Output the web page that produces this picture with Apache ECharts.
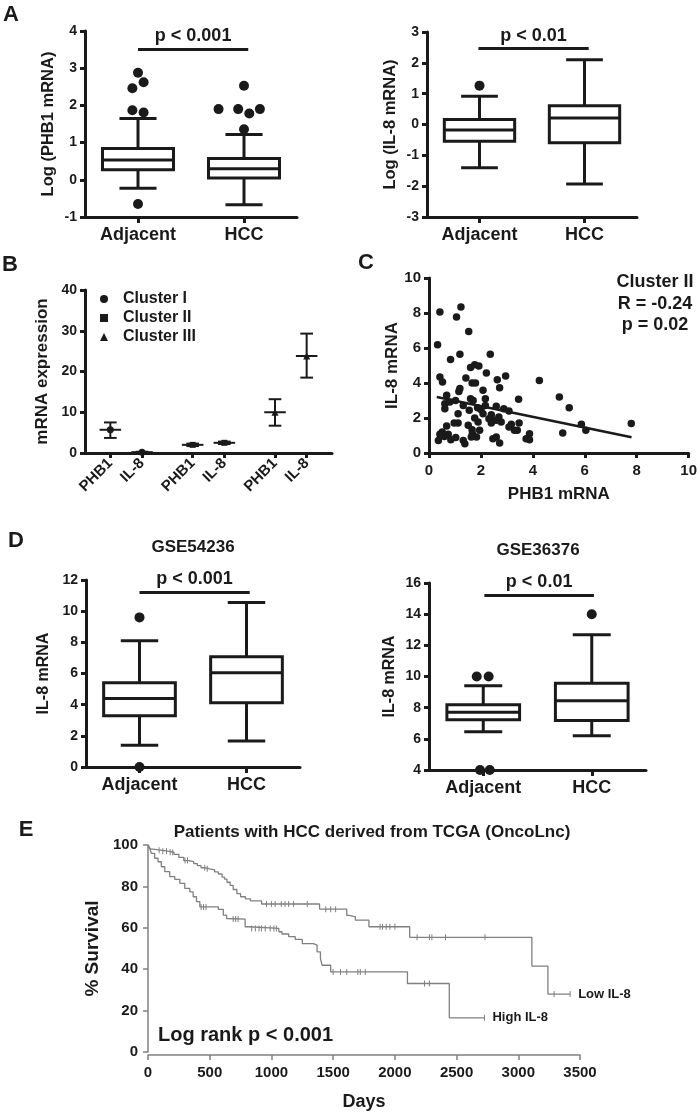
<!DOCTYPE html>
<html><head><meta charset="utf-8">
<script src="https://cdn.jsdelivr.net/npm/echarts@6/dist/echarts.min.js"></script>
<style>html,body{margin:0;padding:0;background:#fff}#c{width:700px;height:1114px}</style>
</head><body><div id="c"></div>
<script>
// ---------- DATA ----------
const boxCats = ['Adjacent', 'HCC'];
// box rows: [min, Q1, median, Q3, max]
const aPhb1Box = [[-0.23, 0.27, 0.53, 0.84, 1.65], [-0.67, 0.05, 0.30, 0.57, 1.22]];
const aPhb1Out = [[0, 2.88], [-0.053, 2.46], [0.053, 2.62], [-0.053, 1.87], [0.053, 1.81], [0, -0.65],
                  [1, 2.53], [0.76, 1.90], [0.945, 1.90], [1.05, 1.78], [1.15, 1.90], [1, 1.36]];
const aIl8Box = [[-1.40, -0.54, -0.18, 0.16, 0.92], [-1.93, -0.59, 0.21, 0.61, 2.10]];
const aIl8Out = [[0, 1.26]];

const bPos = [0.8, 1.8, 3.4, 4.4, 6.0, 7.0];
const bLabels = ['PHB1', 'IL-8', 'PHB1', 'IL-8', 'PHB1', 'IL-8'];
const clusterNames = ['Cluster I', 'Cluster II', 'Cluster III'];
const clusterMean = [[5.7, 0.2], [2.0, 2.5], [10.0, 23.8]];
const clusterLow  = [[3.7, 0.1], [1.7, 2.2], [6.7, 18.5]];
const clusterHigh = [[7.5, 0.3], [2.3, 2.8], [13.2, 29.3]];

const cPhb1 = [0.42,1.06,1.23,0.33,1.53,1.19,0.83,2.36,1.60,1.76,1.92,2.21,0.42,0.52,1.42,1.66,1.79,2.63,2.95,4.25,
  2.08,2.72,1.15,1.19,0.68,0.61,0.61,0.80,1.02,1.60,1.70,2.17,1.32,1.55,1.87,2.00,2.17,2.59,2.08,2.40,
  2.88,3.08,3.45,5.02,5.40,1.12,1.76,1.89,1.51,0.97,1.12,0.68,0.51,0.42,0.74,0.59,0.36,0.84,1.03,1.32,
  1.38,1.66,1.67,1.83,1.95,1.63,2.46,2.40,2.69,2.78,3.08,3.17,3.47,3.40,3.29,3.87,3.74,3.87,2.46,2.59,
  2.72,5.15,5.87,6.04,7.79,2.59,2.31];
const cIl8 = [8.06,7.77,8.34,6.19,6.95,5.64,5.35,5.64,4.88,5.05,4.97,4.57,4.34,4.06,4.29,4.00,4.00,4.19,4.40,4.15,
  3.58,3.73,3.52,3.68,3.30,2.82,2.53,2.91,3.00,3.10,3.00,3.10,2.72,2.44,2.59,2.48,2.72,2.67,2.25,2.19,
  2.53,2.40,3.07,3.20,2.59,2.25,2.00,1.77,1.58,1.71,1.71,1.54,1.20,1.07,1.07,0.95,0.72,0.76,0.88,0.72,
  0.53,1.33,1.10,0.91,1.30,0.91,1.87,1.71,2.06,1.77,1.49,1.64,1.71,1.30,1.30,1.10,0.82,0.76,0.82,0.91,
  0.57,1.14,1.64,1.30,1.68,1.87,1.96];
const cFitX = [0.3, 7.8];
const cFitY = [3.2, 0.9];

const dLeftBox = [[1.39, 3.29, 4.40, 5.41, 8.10], [1.67, 4.13, 6.05, 7.08, 10.55]];
const dLeftOut = [[0, 9.6], [0, 0]];
const dRightBox = [[6.46, 7.22, 7.71, 8.18, 9.40], [6.19, 7.17, 8.44, 9.57, 12.68]];
const dRightOut = [[-0.06, 10.0], [0.05, 10.0], [-0.03, 4.0], [0.06, 4.0], [1, 14.0]];

const lowDays = [0,10,20,40,100,160,210,250,290,330,370,400,430,465,500,540,570,600,620,640,665,690,720,750,790,830,920,1390,1610,1630,1680,1790,2120,3110,3240,3420];
const lowSurv = [100,99,98,97.5,97,96.5,95.5,94,92.5,92,91,90,89,88.5,88,87,86,84.5,83.5,82,80.5,78.5,76.5,75,74,73,71.5,69,66,65.3,63.7,60.5,55.4,41.5,28,28];
const highDays = [0,14,27,54,81,108,136,176,217,258,298,339,366,393,420,570,610,637,650,787,814,1060,1085,1140,1193,1250,1340,1370,1397,1410,1480,2102,2441,2726];
const highSurv = [100,98.4,96,93.6,91.9,89.5,87.1,84.7,83.4,81.5,79,77.4,75,72.6,70.1,68.9,66.1,64.5,64.2,60.5,59.7,58.1,57,55.7,54.4,52.4,51.6,48.4,45.2,41.9,38.7,33.1,16.5,16.5];
const lowCensor = [90,120,150,180,200,300,320,460,480,960,1000,1030,1080,1110,1140,1180,1290,1440,1480,1520,1880,1900,1930,1960,2000,2180,2280,2300,2410,2730,3290,3420];
const highCensor = [430,450,470,690,710,730,840,870,900,920,950,990,1020,1040,1500,1560,1610,1700,1720,1760,2240,2280,2726];

// ---------- STYLE ----------
const FF = '"Liberation Sans", Arial, Helvetica, sans-serif';
const INK = '#1a1a1a';
const GRAY = '#808080';

const chart = echarts.init(document.getElementById('c'), null, {renderer: 'canvas'});

function boxData(rows) { return rows.map((r, i) => [i].concat(r)); }
function boxRender(params, api) {
  const x = api.value(0);
  const mn = api.value(1), q1 = api.value(2), md = api.value(3), q3 = api.value(4), mx = api.value(5);
  const hw = 0.335, cw = 0.175;
  const p = (xx, yy) => api.coord([xx, yy]);
  const st = {stroke: INK, lineWidth: 3, fill: null};
  const L = (a, b) => ({type: 'line', shape: {x1: a[0], y1: a[1], x2: b[0], y2: b[1]}, style: st});
  const tl = p(x - hw, q3), br = p(x + hw, q1);
  return {type: 'group', children: [
    L(p(x, mx), p(x, q3)), L(p(x, q1), p(x, mn)),
    L(p(x - cw, mx), p(x + cw, mx)), L(p(x - cw, mn), p(x + cw, mn)),
    {type: 'rect', shape: {x: tl[0], y: tl[1], width: br[0] - tl[0], height: br[1] - tl[1]}, style: {stroke: INK, lineWidth: 3, fill: '#fff'}},
    L(p(x - hw, md), p(x + hw, md))
  ]};
}
function errRender(params, api) {
  const x = api.value(0), m = api.value(1), lo = api.value(2), hi = api.value(3);
  const p = (xx, yy) => api.coord([xx, yy]);
  const st = {stroke: INK, lineWidth: 2, fill: null};
  const L = (a, b) => ({type: 'line', shape: {x1: a[0], y1: a[1], x2: b[0], y2: b[1]}, style: st});
  return {type: 'group', children: [
    L(p(x, lo), p(x, hi)), L(p(x - 0.2, lo), p(x + 0.2, lo)), L(p(x - 0.2, hi), p(x + 0.2, hi)),
    L(p(x - 0.34, m), p(x + 0.34, m))
  ]};
}

const tickLbl = (size) => ({color: INK, fontFamily: FF, fontWeight: 'bold', fontSize: size});
function yAx(grid, min, max, interval, name, nameGap, nameSize, lblSize) {
  return {type: 'value', gridIndex: grid, min, max, interval,
    axisLine: {show: true, onZero: false, lineStyle: {color: INK, width: 3}},
    axisTick: {show: true, length: 5, lineStyle: {color: INK, width: 3}},
    axisLabel: Object.assign({margin: 8}, tickLbl(lblSize)),
    splitLine: {show: false},
    name, nameLocation: 'middle', nameGap, nameRotate: 90,
    nameTextStyle: {color: INK, fontFamily: FF, fontWeight: 'bold', fontSize: nameSize}};
}
function xCatAx(grid) {
  return {type: 'value', gridIndex: grid, min: -0.5, max: 1.5,
    axisLine: {show: true, onZero: false, lineStyle: {color: INK, width: 3}},
    axisTick: {show: true, length: 6, customValues: [0, 1], lineStyle: {color: INK, width: 3}},
    axisLabel: Object.assign({margin: 9, customValues: [0, 1], formatter: v => boxCats[Math.round(v)]}, tickLbl(18)),
    splitLine: {show: false}};
}
function sigLine(x0, x1, y, txt) {
  return {silent: true, symbol: 'none', animation: false,
    lineStyle: {color: INK, width: 3, type: 'solid'},
    label: {show: true, position: 'insideMiddleTop', distance: 4, formatter: txt, color: INK, fontFamily: FF, fontWeight: 'bold', fontSize: 18},
    data: [[{coord: [x0, y]}, {coord: [x1, y]}]]};
}
function boxSeries(grid, rows, out, sig) {
  return [
    {type: 'custom', xAxisIndex: grid, yAxisIndex: grid, renderItem: boxRender, data: boxData(rows),
     encode: {x: 0, y: [1, 2, 3, 4, 5]}, markLine: sig, z: 3},
    {type: 'scatter', xAxisIndex: grid, yAxisIndex: grid, data: out, symbolSize: 10, itemStyle: {color: INK, opacity: 1}, z: 4}
  ];
}
function stepAt(days, surv, t) {
  let v = surv[0];
  for (let i = 0; i < days.length; i++) if (days[i] <= t) v = surv[i];
  return v;
}

const txt = (x, y, s, size, align) => ({type: 'text', x, y,
  style: {text: s, fill: INK, font: 'bold ' + size + 'px ' + FF, textAlign: align || 'center', textVerticalAlign: 'middle'}});

const option = {
  backgroundColor: '#fff',
  animation: false,
  textStyle: {fontFamily: FF},
  grid: [
    {left: 85, top: 31, width: 212, height: 186},
    {left: 427, top: 32, width: 210, height: 185},
    {left: 85, top: 290, width: 247, height: 163},
    {left: 429, top: 278, width: 261, height: 175},
    {left: 86, top: 580, width: 214, height: 187},
    {left: 429, top: 583, width: 217, height: 187},
    {left: 148, top: 845, width: 432, height: 207}
  ],
  legend: {data: clusterNames, orient: 'vertical', left: 95, top: 286, itemWidth: 8, itemHeight: 8, itemGap: 3,
    textStyle: {color: INK, fontFamily: FF, fontWeight: 'bold', fontSize: 16, lineHeight: 16, padding: [0, 0, 0, 10]},
    selectedMode: false},
  xAxis: [
    xCatAx(0), xCatAx(1),
    {type: 'value', gridIndex: 2, min: 0, max: 7.8,
     axisLine: {show: true, onZero: false, lineStyle: {color: INK, width: 3}},
     axisTick: {show: true, length: 5, customValues: bPos, lineStyle: {color: INK, width: 3}},
     axisLabel: Object.assign({margin: 8, rotate: 45, customValues: bPos,
       formatter: v => { let bi = 0; bPos.forEach((p, i) => { if (Math.abs(p - v) < Math.abs(bPos[bi] - v)) bi = i; }); return bLabels[bi]; }}, tickLbl(15)),
     splitLine: {show: false}},
    {type: 'value', gridIndex: 3, min: 0, max: 10, interval: 2,
     axisLine: {show: true, onZero: false, lineStyle: {color: INK, width: 3}},
     axisTick: {show: true, length: 5, lineStyle: {color: INK, width: 3}},
     axisLabel: Object.assign({margin: 10}, tickLbl(15)), splitLine: {show: false},
     name: 'PHB1 mRNA', nameLocation: 'middle', nameGap: 33,
     nameTextStyle: {color: INK, fontFamily: FF, fontWeight: 'bold', fontSize: 17}},
    xCatAx(4), xCatAx(5),
    {type: 'value', gridIndex: 6, min: 0, max: 3500, interval: 500, offset: 3,
     axisLine: {show: true, onZero: false, lineStyle: {color: GRAY, width: 1.5}},
     axisTick: {show: true, length: 5, lineStyle: {color: GRAY, width: 1.5}},
     axisLabel: Object.assign({margin: 10, formatter: v => String(v)}, tickLbl(15)), splitLine: {show: false},
     name: 'Days', nameLocation: 'middle', nameGap: 38,
     nameTextStyle: {color: INK, fontFamily: FF, fontWeight: 'bold', fontSize: 18}}
  ],
  yAxis: [
    yAx(0, -1, 4, 1, 'Log (PHB1 mRNA)', 28, 16.5, 14),
    yAx(1, -3, 3, 1, 'Log (IL-8 mRNA)', 28, 16.5, 14),
    yAx(2, 0, 40, 10, 'mRNA expression', 34, 17, 14),
    yAx(3, 0, 10, 2, 'IL-8 mRNA', 26, 17, 15),
    yAx(4, 0, 12, 2, 'IL-8 mRNA', 34, 16, 14),
    yAx(5, 4, 16, 2, 'IL-8 mRNA', 31, 16, 14),
    {type: 'value', gridIndex: 6, min: 0, max: 100, interval: 20,
     axisLine: {show: true, onZero: false, lineStyle: {color: GRAY, width: 1.5}},
     axisTick: {show: true, length: 5, lineStyle: {color: GRAY, width: 1.5}},
     axisLabel: Object.assign({margin: 10}, tickLbl(15)), splitLine: {show: false},
     name: '% Survival', nameLocation: 'middle', nameGap: 37, nameRotate: 90,
     nameTextStyle: {color: INK, fontFamily: FF, fontWeight: 'bold', fontSize: 19}}
  ],
  series: [].concat(
    boxSeries(0, aPhb1Box, aPhb1Out, sigLine(0, 1.04, 3.52, 'p < 0.001')),
    boxSeries(1, aIl8Box, aIl8Out, sigLine(-0.01, 1.04, 2.46, 'p < 0.01')),
    [{type: 'custom', xAxisIndex: 2, yAxisIndex: 2, renderItem: errRender, z: 3,
      encode: {x: 0, y: [1, 2, 3]},
      data: clusterMean.flatMap((ms, c) => ms.map((m, k) => [bPos[c * 2 + k], m, clusterLow[c][k], clusterHigh[c][k]]))}],
    clusterNames.map((n, c) => ({type: 'scatter', name: n, xAxisIndex: 2, yAxisIndex: 2, z: 4,
      symbol: ['circle', 'rect', 'triangle'][c], symbolSize: [7, 6, 7][c], itemStyle: {color: INK, opacity: 1},
      data: clusterMean[c].map((m, k) => [bPos[c * 2 + k], m])})),
    [{type: 'scatter', xAxisIndex: 3, yAxisIndex: 3, symbolSize: 7.5, itemStyle: {color: INK, opacity: 1},
      data: cPhb1.map((x, i) => [x, cIl8[i]])},
     {type: 'line', xAxisIndex: 3, yAxisIndex: 3, showSymbol: false, lineStyle: {color: INK, width: 2.5},
      data: cFitX.map((x, i) => [x, cFitY[i]])}],
    boxSeries(4, dLeftBox, dLeftOut, sigLine(0, 1.03, 11.23, 'p < 0.001')),
    boxSeries(5, dRightBox, dRightOut, sigLine(0.01, 1.02, 15.2, 'p < 0.01')),
    [{type: 'line', name: 'Low IL-8', xAxisIndex: 6, yAxisIndex: 6, step: 'end', showSymbol: false,
      lineStyle: {color: GRAY, width: 1.3}, data: lowDays.map((d, i) => [d, lowSurv[i]]),
      endLabel: {show: true, formatter: 'Low IL-8', distance: 8, color: INK, fontFamily: FF, fontWeight: 'bold', fontSize: 13}},
     {type: 'line', name: 'High IL-8', xAxisIndex: 6, yAxisIndex: 6, step: 'end', showSymbol: false,
      lineStyle: {color: GRAY, width: 1.3}, data: highDays.map((d, i) => [d, highSurv[i]]),
      endLabel: {show: true, formatter: 'High IL-8', distance: 8, color: INK, fontFamily: FF, fontWeight: 'bold', fontSize: 13}},
     {type: 'scatter', xAxisIndex: 6, yAxisIndex: 6, symbol: 'rect', symbolSize: [1, 6], itemStyle: {color: GRAY, opacity: 1},
      data: lowCensor.map(t => [t, stepAt(lowDays, lowSurv, t)]).concat(highCensor.map(t => [t, stepAt(highDays, highSurv, t)]))}]
  ),
  graphic: [
    txt(11, 15, 'A', 22), txt(10, 265, 'B', 22), txt(366, 263, 'C', 22), txt(16, 541, 'D', 22), txt(26, 830, 'E', 22),
    txt(655, 282, 'Cluster II', 18), txt(655, 304, 'R = -0.24', 18), txt(655, 325, 'p = 0.02', 18),
    txt(193, 547, 'GSE54236', 17), txt(538, 550, 'GSE36376', 17),
    txt(372, 832, 'Patients with HCC derived from TCGA (OncoLnc)', 17),
    txt(158, 1035, 'Log rank p < 0.001', 20, 'left')
  ]
};
chart.setOption(option);
</script></body></html>
